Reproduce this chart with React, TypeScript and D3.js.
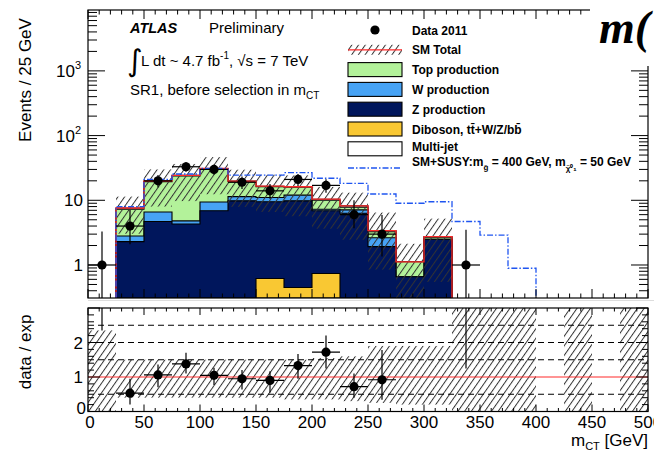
import * as d3 from "d3";

// 25 GeV bins from 0 to 500 GeV
const binWidth = 25;
const nBins = 20;

const dataCounts = [1, 4, 20, 33, 30, 19, 14, 21, 17, 6, 3, 0, 0, 1, 0, 0, 0, 0, 0, 0];
const dataErrUp = [2.3, 3.1, 4.6, 6, 5.5, 4.4, 3.8, 4.6, 4.2, 4, 2.9, 0, 0, 2.5, 0, 0, 0, 0, 0, 0];
const dataErrDown = [1, 1.9, 4.2, 5.5, 5.2, 4.1, 3.4, 4.3, 3.9, 2.3, 1.65, 0, 0, 1, 0, 0, 0, 0, 0, 0];

const diboson = [0, 0, 0, 0, 0, 0, 0.62, 0.45, 0.74, 0, 0, 0, 0, 0, 0, 0, 0, 0, 0, 0];
const zProd = [0, 2.3, 4.7, 4.3, 6.9, 9.8, 8.9, 9.35, 6.15, 6.3, 1.92, 0.66, 2.5, 0, 0, 0, 0, 0, 0, 0];
const wProd = [0, 0.5, 1.9, 0.5, 2.5, 1.6, 1.5, 2.2, 0.4, 0.8, 0.72, 0, 0, 0, 0, 0, 0, 0, 0, 0];
const topProd = [0, 4.5, 12.8, 19, 21.1, 8, 5.2, 3.9, 2.7, 0.7, 0.63, 0.46, 0.18, 0, 0, 0, 0, 0, 0, 0];
const multiJet = [0, 0.3, 0.6, 0.5, 0.5, 0.4, 0.3, 0.3, 0.4, 0.4, 0.13, 0, 0.06, 0, 0, 0, 0, 0, 0, 0];
const smSusy = [0, 8, 21, 25.5, 31, 24.5, 24.5, 26.7, 21.9, 18.3, 12.5, 9.0, 9.5, 4.7, 2.9, 0.89, 0, 0, 0, 0];

// SM uncertainty band, as ratio to SM total
const bandLow = [0, 0.4, 0.4, 0.4, 0.4, 0.4, 0.4, 0.35, 0.35, 0.3, 0.25, 0.2, 0.2, 0, 0, 0, 0, 0, 0, 0];
const bandHigh = [2.35, 1.5, 1.5, 1.5, 1.5, 1.5, 1.5, 1.5, 1.55, 1.6, 1.9, 1.9, 1.9, 3, 3, 3, 0, 3, 0, 3];

// data / exp points
const ratioBins = [1, 2, 3, 4, 5, 6, 7, 8, 9, 10];
const ratioVal = [0.53, 1.06, 1.38, 1.05, 0.95, 0.9, 1.33, 1.72, 0.72, 0.92];
const ratioUp = [0.42, 0.3, 0.32, 0.22, 0.25, 0.27, 0.34, 0.48, 0.38, 0.86];
const ratioDown = [0.33, 0.36, 0.28, 0.28, 0.31, 0.35, 0.38, 0.47, 0.32, 0.58];
const offscaleBins = [0, 13];
const offscaleLow = [2.35, 1.25];

const ratioDashed = [0.5, 1.5, 2, 2.5];
const xTickLabels = [0, 50, 100, 150, 200, 250, 300, 350, 400, 450, 500];

const colors = {
  top: "#b3f29a",
  w: "#47a3f5",
  z: "#00165c",
  diboson: "#f9c833",
  sm: "#ff2a2a",
  susy: "#1f55f0",
};

const font = "'Liberation Sans', Arial, sans-serif";

export default function App() {
  const W = 654;
  const H = 453;
  const left = 88;
  const right = 648;
  const top = 10;
  const bottom = 298;
  const rTop = 308;
  const rBottom = 411.5;
  const yMin = 0.309;

  const x = d3.scaleLinear().domain([0, 500]).range([left, right]);
  const y = d3.scaleLog().domain([yMin, 8730]).range([bottom, top]);
  const yr = d3.scaleLinear().domain([0, 3]).range([rBottom, rTop]);
  const yv = (v: number) => (v > yMin ? y(v) : bottom);
  const edges = d3.range(nBins + 1).map((i) => i * binWidth);

  const add = (a: number[], b: number[]) => a.map((v, i) => v + b[i]);
  const dibCum = diboson;
  const zCum = add(dibCum, zProd);
  const wCum = add(zCum, wProd);
  const topCum = add(wCum, topProd);
  const smCum = add(topCum, multiJet);

  const line = d3.line();
  function stepPath(vals: number[]) {
    const idx = vals.map((v, i) => (v > 0 ? i : -1)).filter((i) => i >= 0);
    if (!idx.length) return "";
    const a = idx[0];
    const b = idx[idx.length - 1];
    const pts: [number, number][] = [[x(edges[a]), bottom]];
    for (let i = a; i <= b; i++) {
      pts.push([x(edges[i]), yv(vals[i])]);
      pts.push([x(edges[i + 1]), yv(vals[i])]);
    }
    pts.push([x(edges[b + 1]), bottom]);
    return line(pts) ?? "";
  }

  const stackLayers = [
    { vals: smCum, fill: "#ffffff" },
    { vals: topCum, fill: colors.top },
    { vals: wCum, fill: colors.w },
    { vals: zCum, fill: colors.z },
    { vals: dibCum, fill: colors.diboson },
  ];

  // ticks
  const xTicks = d3.range(0, 501, 10);
  const logTicks: { v: number; major: boolean }[] = [];
  for (let d = -1; d <= 3; d++) {
    for (let k = 1; k <= 9; k++) {
      const v = k * Math.pow(10, d);
      if (v >= yMin && v <= 8730) logTicks.push({ v, major: k === 1 });
    }
  }
  const ratioTicks = d3.range(0, 3.001, 0.2).map((v) => ({ v, major: Math.abs(v - Math.round(v)) < 1e-6 }));

  const legendRows = [
    "Data 2011",
    "SM Total",
    "Top production",
    "W production",
    "Z production",
    "Diboson, tt\u0304+W/Z/bb\u0304",
    "Multi-jet",
  ];
  const legendFills = [null, "hatch", colors.top, colors.w, colors.z, colors.diboson, "#ffffff"];
  const rowY = (i: number) => 30 + i * 19.8;

  return (
    <svg width={W} height={H} style={{ position: "absolute", left: 0, top: 0, background: "#fff" }} fontFamily={font}>
      <defs>
        <pattern id="hatch" width="5.5" height="10" patternUnits="userSpaceOnUse" patternTransform="rotate(35)">
          <line x1="0.5" y1="0" x2="0.5" y2="10" stroke="#333" strokeWidth="1" />
        </pattern>
        <clipPath id="clipTop">
          <rect x={left} y={top} width={right - left} height={bottom - top} />
        </clipPath>
        <clipPath id="clipRatio">
          <rect x={left} y={rTop} width={right - left} height={rBottom - rTop} />
        </clipPath>
      </defs>

      {/* ---------- top panel ---------- */}
      <g clipPath="url(#clipTop)">
        {stackLayers.map((l, i) => (
          <path key={i} d={stepPath(l.vals) + "Z"} fill={l.fill} stroke="#000" strokeWidth={1.1} />
        ))}
        {smCum.map((s, i) =>
          s > 0 && bandHigh[i] > 0 ? (
            <rect
              key={i}
              x={x(edges[i])}
              width={x(edges[i + 1]) - x(edges[i])}
              y={yv(s * bandHigh[i])}
              height={yv(s * bandLow[i]) - yv(s * bandHigh[i])}
              fill="url(#hatch)"
            />
          ) : null
        )}
        <path d={stepPath(smCum)} fill="none" stroke={colors.sm} strokeWidth={1.3} />
        <path d={stepPath(smSusy)} fill="none" stroke={colors.susy} strokeWidth={1.3} strokeDasharray="6,2,1.5,2" />
        {dataCounts.map((d, i) => {
          if (d <= 0) return null;
          const cx = x(edges[i] + binWidth / 2);
          return (
            <g key={i}>
              <line x1={cx} x2={cx} y1={yv(d + dataErrUp[i])} y2={yv(d - dataErrDown[i])} stroke="#000" strokeWidth={1.2} />
              <line x1={x(edges[i])} x2={x(edges[i + 1])} y1={y(d)} y2={y(d)} stroke="#000" strokeWidth={1.2} />
              <circle cx={cx} cy={y(d)} r={4.6} fill="#000" />
            </g>
          );
        })}
      </g>

      {/* top panel frame + ticks */}
      <rect x={left} y={top} width={right - left} height={bottom - top} fill="none" stroke="#000" strokeWidth={1.2} />
      {xTicks.map((t) => {
        const len = t % 50 === 0 ? 9 : 4.5;
        return (
          <g key={t} stroke="#000" strokeWidth={1}>
            <line x1={x(t)} x2={x(t)} y1={bottom} y2={bottom - len} />
            <line x1={x(t)} x2={x(t)} y1={top} y2={top + len} />
          </g>
        );
      })}
      {logTicks.map((t, i) => {
        const len = t.major ? 17 : 9;
        return (
          <g key={i} stroke="#000" strokeWidth={1}>
            <line x1={left} x2={left + len} y1={y(t.v)} y2={y(t.v)} />
            <line x1={right} x2={right - len} y1={y(t.v)} y2={y(t.v)} />
          </g>
        );
      })}
      <g fontSize={17} textAnchor="end" fill="#000">
        <text x={83} y={y(1) + 6}>1</text>
        <text x={83} y={y(10) + 6}>10</text>
        <text x={81} y={y(100) + 6}>
          10<tspan fontSize={11} dy={-8}>2</tspan>
        </text>
        <text x={81} y={y(1000) + 6}>
          10<tspan fontSize={11} dy={-8}>3</tspan>
        </text>
      </g>
      <text transform="translate(31,80) rotate(-90)" textAnchor="middle" fontSize={17}>
        Events / 25 GeV
      </text>

      {/* annotations */}
      <text x={130} y={33} fontSize={14.5} fontWeight="bold" fontStyle="italic">ATLAS</text>
      <text x={209} y={33} fontSize={15}>Preliminary</text>
      <text x={127} y={71} fontSize={30} fontFamily="'DejaVu Sans', sans-serif">∫</text>
      <text x={141} y={66} fontSize={15}>
        L dt ~ 4.7 fb<tspan fontSize={10} dy={-7}>-1</tspan>
        <tspan dy={7}>, √s = 7 TeV</tspan>
      </text>
      <text x={130} y={95} fontSize={15}>
        SR1, before selection in m<tspan fontSize={10} dy={4}>CT</tspan>
      </text>

      {/* legend */}
      {legendRows.map((label, i) => {
        const cy = rowY(i);
        const f = legendFills[i];
        const base = i === legendRows.length - 1 ? cy + 2.5 : cy + 4.5;
        return (
          <g key={label}>
            {f === null && <circle cx={375} cy={cy} r={4.6} fill="#000" />}
            {f === "hatch" && (
              <g>
                <rect x={348} y={cy - 5} width={54} height={10} fill="url(#hatch)" />
                <line x1={348} x2={402} y1={cy} y2={cy} stroke={colors.sm} strokeWidth={1.3} />
              </g>
            )}
            {f !== null && f !== "hatch" && (
              <rect x={348} y={cy - 7} width={54} height={14} fill={f} stroke="#000" strokeWidth={1.1} />
            )}
            <text x={412} y={base} fontSize={12} fontWeight="bold">{label}</text>
          </g>
        );
      })}
      <line x1={348} x2={402} y1={168} y2={168} stroke={colors.susy} strokeWidth={1.3} strokeDasharray="6,2,1.5,2" />
      <text x={412} y={165.5} fontSize={12} fontWeight="bold">
        SM+SUSY:m<tspan fontSize={8} dy={4}>g̃</tspan>
        <tspan dy={-4}> = 400 GeV, m</tspan>
        <tspan fontSize={8} dy={5}>χ̃⁰₁</tspan>
        <tspan dy={-5}> = 50 GeV</tspan>
      </text>

      {/* neighbouring slide text covering the corner */}
      <rect x={590} y={0} width={64} height={66} fill="#fff" />
      <text x={599} y={43} fontSize={46} fontStyle="italic" fontWeight="bold" fontFamily="'Liberation Serif', 'DejaVu Serif', serif">
        m(
      </text>

      <line x1={left} x2={W} y1={300.5} y2={300.5} stroke="#ddd" strokeWidth={1} />

      {/* ---------- ratio panel ---------- */}
      <g clipPath="url(#clipRatio)">
        {bandHigh.map((h, i) =>
          h > 0 ? (
            <rect
              key={i}
              x={x(edges[i])}
              width={x(edges[i + 1]) - x(edges[i])}
              y={yr(h)}
              height={yr(bandLow[i]) - yr(h)}
              fill="url(#hatch)"
            />
          ) : null
        )}
        {ratioDashed.map((v) => (
          <line key={v} x1={left} x2={right} y1={yr(v)} y2={yr(v)} stroke="#000" strokeWidth={1.2} strokeDasharray="6,4" />
        ))}
        <line x1={left} x2={right} y1={yr(1)} y2={yr(1)} stroke={colors.sm} strokeWidth={1.2} />
        {ratioBins.map((b, i) => {
          const cx = x(edges[b] + binWidth / 2);
          const cy = yr(ratioVal[i]);
          return (
            <g key={b}>
              <line x1={cx} x2={cx} y1={yr(ratioVal[i] + ratioUp[i])} y2={yr(ratioVal[i] - ratioDown[i])} stroke="#000" strokeWidth={1.2} />
              <line x1={x(edges[b])} x2={x(edges[b + 1])} y1={cy} y2={cy} stroke="#000" strokeWidth={1.2} />
              <circle cx={cx} cy={cy} r={4.6} fill="#000" />
            </g>
          );
        })}
        {offscaleBins.map((b, i) => {
          const cx = x(edges[b] + binWidth / 2);
          return <line key={b} x1={cx} x2={cx} y1={yr(offscaleLow[i])} y2={rTop} stroke="#000" strokeWidth={1.2} />;
        })}
      </g>

      <rect x={left} y={rTop} width={right - left} height={rBottom - rTop} fill="none" stroke="#000" strokeWidth={1.2} />
      {xTicks.map((t) => {
        const len = t % 50 === 0 ? 7 : 3.5;
        return (
          <g key={t} stroke="#000" strokeWidth={1}>
            <line x1={x(t)} x2={x(t)} y1={rBottom} y2={rBottom - len} />
            <line x1={x(t)} x2={x(t)} y1={rTop} y2={rTop + len} />
          </g>
        );
      })}
      {ratioTicks.map((t, i) => {
        const len = t.major ? 12 : 6;
        return (
          <g key={i} stroke="#000" strokeWidth={1}>
            <line x1={left} x2={left + len} y1={yr(t.v)} y2={yr(t.v)} />
            <line x1={right} x2={right - len} y1={yr(t.v)} y2={yr(t.v)} />
          </g>
        );
      })}
      <g fontSize={17} textAnchor="end">
        <text x={83} y={yr(2) + 6}>2</text>
        <text x={83} y={yr(1) + 6}>1</text>
        <text x={86} y={yr(0) + 2}>0</text>
      </g>
      <g fontSize={17} textAnchor="middle">
        {xTickLabels.map((v) => (
          <text key={v} x={x(v) + (v === 0 ? 2 : 0)} y={428}>
            {v}
          </text>
        ))}
      </g>
      <text transform="translate(31,352) rotate(-90)" textAnchor="middle" fontSize={17}>
        data / exp
      </text>
      <text x={648} y={446} textAnchor="end" fontSize={17}>
        m<tspan fontSize={11} dy={4}>CT</tspan>
        <tspan dy={-4}> [GeV]</tspan>
      </text>
    </svg>
  );
}
